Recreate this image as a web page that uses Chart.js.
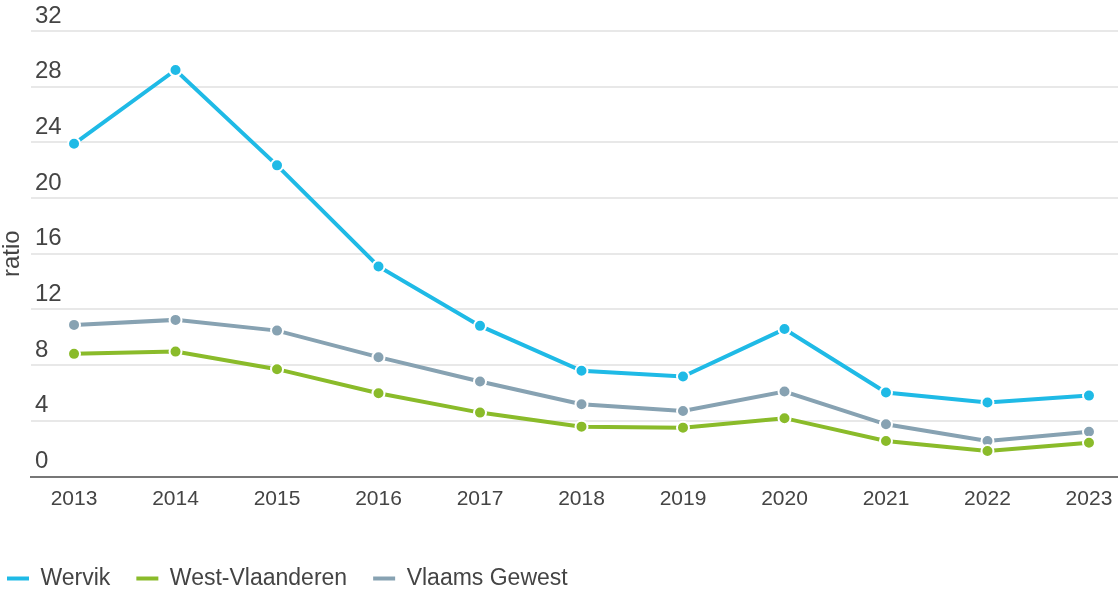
<!DOCTYPE html>
<html lang="nl">
<head>
<meta charset="utf-8">
<title>Ratio Wervik</title>
<script src="https://cdn.jsdelivr.net/npm/chart.js@4.4.1/dist/chart.umd.min.js"></script>
<style>
    html, body { margin: 0; padding: 0; background: #fff; }
    #wrap { position: relative; width: 1118px; height: 594px; }
</style>
</head>
<body>
<div id="wrap"><canvas id="ratioChart"></canvas></div>
<script>
// Jaren en waarden per gebied
const years = [2013, 2014, 2015, 2016, 2017, 2018, 2019, 2020, 2021, 2022, 2023];
const wervik = [23.9, 29.2, 22.35, 15.09, 10.82, 7.59, 7.18, 10.59, 6.03, 5.31, 5.81];
const westVlaanderen = [8.81, 8.97, 7.71, 5.98, 4.59, 3.58, 3.51, 4.19, 2.55, 1.83, 2.43];
const vlaamsGewest = [10.89, 11.25, 10.48, 8.57, 6.82, 5.19, 4.71, 6.10, 3.75, 2.55, 3.22];
const yTicks = [0, 4, 8, 12, 16, 20, 24, 28, 32];

const textCol = '#444';
const fontFamily = '"Liberation Sans", Arial, sans-serif';

function series(label, values, color) {
    return {
        label: label,
        data: years.map((y, i) => ({ x: y, y: values[i] })),
        borderColor: color,
        backgroundColor: color,
        borderWidth: 4,
        tension: 0,
        pointRadius: 6,
        pointHoverRadius: 6,
        pointBackgroundColor: color,
        pointBorderColor: '#fff',
        pointBorderWidth: 2
    };
}

// Legend starts closer to the left edge than its item padding allows
const legendShift = {
    id: 'legendShift',
    afterLayout(chart) {
        const lg = chart.legend;
        if (lg) {
            lg.left -= 19;
            lg.right -= 19;
        }
    }
};

new Chart(document.getElementById('ratioChart'), {
    type: 'line',
    data: {
        datasets: [
            series('Wervik', wervik, '#1fbae6'),
            series('West-Vlaanderen', westVlaanderen, '#8abb2a'),
            series('Vlaams Gewest', vlaamsGewest, '#87a2b2')
        ]
    },
    options: {
        responsive: true,
        maintainAspectRatio: false,
        animation: false,
        layout: {
            autoPadding: false,
            padding: { top: 31, left: 0, right: 0, bottom: 0 }
        },
        plugins: {
            tooltip: { enabled: false },
            legend: {
                position: 'bottom',
                align: 'start',
                maxHeight: 53,
                labels: {
                    boxWidth: 22,
                    boxHeight: 4,
                    padding: 26,
                    color: textCol,
                    font: { family: fontFamily, size: 23 },
                    generateLabels(chart) {
                        const items = Chart.defaults.plugins.legend.labels.generateLabels(chart);
                        items.forEach(it => { it.lineWidth = 0; });
                        return items;
                    }
                }
            }
        },
        scales: {
            x: {
                type: 'linear',
                min: 2012.576,
                max: 2023.286,
                grid: { display: false, drawTicks: false },
                border: { display: true, color: '#777', width: 2 },
                afterFit(scale) {
                    scale.height = 64.5;
                    scale.paddingLeft = 0;
                    scale.paddingRight = 0;
                },
                ticks: {
                    stepSize: 1,
                    includeBounds: false,
                    autoSkip: false,
                    maxRotation: 0,
                    padding: 10,
                    color: textCol,
                    font: { family: fontFamily, size: 21 },
                    callback: v => String(v)
                }
            },
            y: {
                min: yTicks[0],
                max: yTicks[yTicks.length - 1],
                afterFit(scale) { scale.width = 31; },
                grid: { color: '#e8e8e8', lineWidth: 2, drawTicks: false },
                border: { display: false },
                ticks: {
                    stepSize: 4,
                    mirror: true,
                    padding: 4,
                    labelOffset: -15,
                    color: textCol,
                    font: { family: fontFamily, size: 24 }
                },
                title: {
                    display: true,
                    text: 'ratio',
                    color: textCol,
                    padding: 0,
                    font: { family: fontFamily, size: 24, lineHeight: 1 }
                }
            }
        }
    },
    plugins: [legendShift]
});
</script>
</body>
</html>
